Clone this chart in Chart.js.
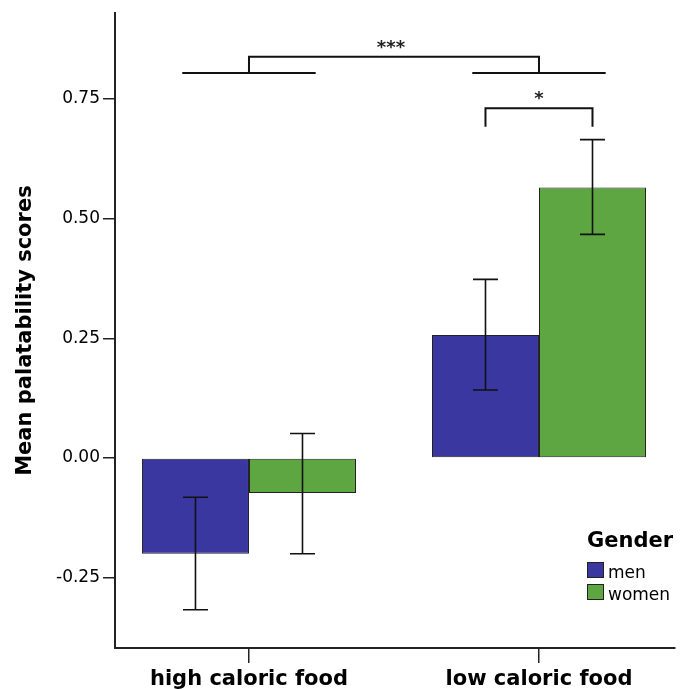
<!DOCTYPE html>
<html>
<head>
<meta charset="utf-8">
<script src="https://cdn.jsdelivr.net/npm/chart.js@4/dist/chart.umd.min.js"></script>
<style>
  html, body { margin: 0; padding: 0; background: #fff; }
  #wrap { width: 686px; height: 689px; position: relative; }
</style>
</head>
<body>
<div id="wrap"><canvas id="c"></canvas></div>
<script>
// ---- data ----
const categories = ['high caloric food', 'low caloric food'];
const seriesNames = ['men', 'women'];
const menMeans = [-0.200, 0.257];
const womenMeans = [-0.073, 0.565];
const menLower = [-0.317, 0.142];
const menUpper = [-0.082, 0.373];
const womenLower = [-0.200, 0.467];
const womenUpper = [0.051, 0.665];
const yTicks = [-0.25, 0.00, 0.25, 0.50, 0.75];
const legendTitle = 'Gender';
const yTitle = 'Mean palatability scores';
// significance annotations (data units)
const groupLineY = 0.804;
const groupLineHalf = 0.23;
const mainBracketTop = 0.838;
const mainBracketLabel = '***';
const innerBracketTop = 0.7305;
const innerBracketBottom = 0.692;
const innerBracketLabel = '*';

const colors = ['#3a37a0', '#5da642'];
const FONT = "'DejaVu Sans', sans-serif";
Chart.defaults.font.family = FONT;
Chart.defaults.color = '#000';

const errLow = [menLower, womenLower];
const errHigh = [menUpper, womenUpper];

const errorBars = {
  id: 'errorBars',
  afterDatasetsDraw(chart) {
    const ctx = chart.ctx, y = chart.scales.y;
    ctx.save();
    ctx.strokeStyle = '#111';
    ctx.lineWidth = 1.6;
    chart.data.datasets.forEach((ds, i) => {
      const meta = chart.getDatasetMeta(i);
      meta.data.forEach((bar, j) => {
        const x = bar.x;
        const yl = y.getPixelForValue(errLow[i][j]);
        const yh = y.getPixelForValue(errHigh[i][j]);
        ctx.beginPath();
        ctx.moveTo(x, yl); ctx.lineTo(x, yh);
        ctx.moveTo(x - 12.5, yl); ctx.lineTo(x + 12.5, yl);
        ctx.moveTo(x - 12.5, yh); ctx.lineTo(x + 12.5, yh);
        ctx.stroke();
      });
    });
    ctx.restore();
  }
};

const sigPlugin = {
  id: 'sig',
  afterDraw(chart) {
    const ctx = chart.ctx, xs = chart.scales.x, ys = chart.scales.y;
    const px = v => xs.getPixelForValue(v), py = v => ys.getPixelForValue(v);
    ctx.save();
    ctx.strokeStyle = '#111';
    ctx.lineWidth = 2;
    ctx.beginPath();
    // group lines
    categories.forEach((c, i) => {
      ctx.moveTo(px(i - groupLineHalf), py(groupLineY));
      ctx.lineTo(px(i + groupLineHalf), py(groupLineY));
    });
    // main bracket
    ctx.moveTo(px(0), py(groupLineY));
    ctx.lineTo(px(0), py(mainBracketTop));
    ctx.lineTo(px(1), py(mainBracketTop));
    ctx.lineTo(px(1), py(groupLineY));
    // inner bracket between bars of category 1
    const xm = chart.getDatasetMeta(0).data[1].x;
    const xw = chart.getDatasetMeta(1).data[1].x;
    ctx.moveTo(xm, py(innerBracketBottom));
    ctx.lineTo(xm, py(innerBracketTop));
    ctx.lineTo(xw, py(innerBracketTop));
    ctx.lineTo(xw, py(innerBracketBottom));
    ctx.stroke();
    ctx.fillStyle = '#222';
    ctx.font = 'bold 18px ' + FONT;
    ctx.textAlign = 'center';
    ctx.textBaseline = 'alphabetic';
    ctx.fillText(mainBracketLabel, (px(0) + px(1)) / 2 - 3, py(mainBracketTop) - 3.5);
    ctx.fillText(innerBracketLabel, (xm + xw) / 2, py(innerBracketTop) - 4);
    ctx.restore();
  }
};

const legendPlugin = {
  id: 'customLegend',
  afterDraw(chart) {
    const ctx = chart.ctx;
    ctx.save();
    ctx.fillStyle = '#000';
    ctx.textAlign = 'left';
    ctx.textBaseline = 'alphabetic';
    ctx.font = 'bold 21px ' + FONT;
    ctx.fillText(legendTitle, 587, 547);
    ctx.font = '17px ' + FONT;
    seriesNames.forEach((n, i) => {
      const top = 562 + i * 22;
      ctx.fillStyle = colors[i];
      ctx.fillRect(587, top, 17, 16);
      ctx.strokeStyle = '#222';
      ctx.lineWidth = 1;
      ctx.strokeRect(587.5, top + 0.5, 16, 15);
      ctx.fillStyle = '#000';
      ctx.fillText(n, 608, top + 16);
    });
    ctx.restore();
  }
};

const means = [menMeans, womenMeans];
const datasets = seriesNames.map((n, i) => ({
  label: n,
  data: categories.map((c, j) => ({ x: j, y: means[i][j] })),
  backgroundColor: colors[i],
  borderColor: '#222',
  borderWidth: 1,
  borderSkipped: false,
  categoryPercentage: 0.738,
  barPercentage: 1.0
}));

new Chart(document.getElementById('c'), {
  type: 'bar',
  data: { datasets },
  plugins: [errorBars, sigPlugin, legendPlugin],
  options: {
    responsive: true,
    maintainAspectRatio: false,
    animation: false,
    layout: { padding: { top: 13, right: 11, left: 0, bottom: 0 } },
    plugins: { legend: { display: false }, tooltip: { enabled: false } },
    scales: {
      x: {
        type: 'linear',
        min: -0.462,
        max: 1.469,
        offset: false,
        afterFit(s) { s.height = 41; },
        afterBuildTicks(s) { s.ticks = categories.map((c, i) => ({ value: i })); },
        grid: { display: true, drawOnChartArea: false, drawTicks: true, tickLength: 15, color: '#222', lineWidth: 1.5, offset: false },
        border: { display: true, color: '#222', width: 2 },
        ticks: {
          autoSkip: false, maxRotation: 0, minRotation: 0, padding: 4,
          font: { size: 21, weight: 'bold' }, color: '#000',
          callback: v => categories[v]
        }
      },
      y: {
        min: -0.397,
        max: 0.929,
        afterFit(s) { s.width = 115; },
        afterBuildTicks(s) { s.ticks = yTicks.map(v => ({ value: v })); },
        grid: { display: true, drawOnChartArea: false, drawTicks: true, tickLength: 12, color: '#222', lineWidth: 1.5 },
        border: { display: true, color: '#222', width: 2 },
        title: { display: true, text: yTitle, font: { size: 21, weight: 'bold' }, color: '#000', padding: { top: 13, bottom: 0 } },
        ticks: { padding: 3, font: { size: 17 }, color: '#000', callback: v => Number(v).toFixed(2) }
      }
    }
  }
});
</script>
</body>
</html>
